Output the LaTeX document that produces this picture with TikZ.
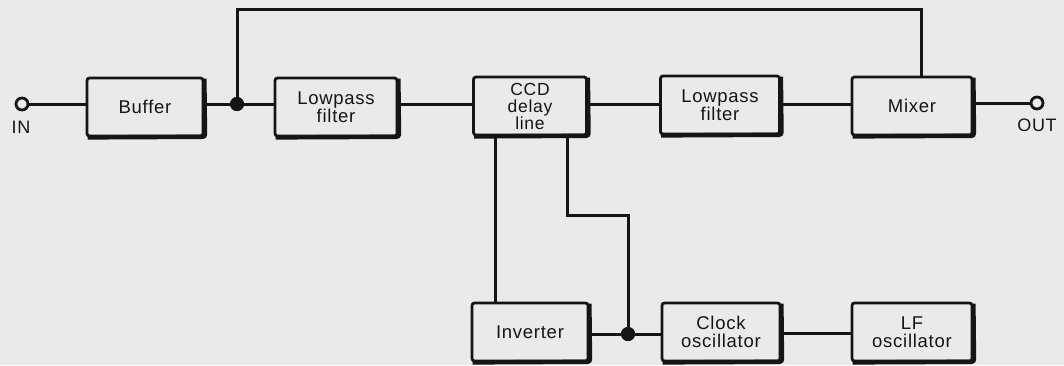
\documentclass[tikz,border=0pt]{standalone}
\usepackage{fontspec}
\setmainfont{Liberation Sans}[LetterSpace=4]
\definecolor{bg}{HTML}{EAEAEA}
\definecolor{ink}{HTML}{151515}
\begin{document}
\begin{tikzpicture}[x=1pt,y=-1pt,
  box/.style={draw=ink,line width=2.8pt,rounded corners=2.5pt,fill=bg,
    align=center,inner sep=0pt,minimum height=58pt,text=ink,
    font=\fontsize{18.5}{18}\selectfont},
  wire/.style={draw=ink,line width=3pt},
  dot/.style={circle,fill=ink,inner sep=0pt,minimum size=14pt},
  term/.style={circle,draw=ink,line width=2.8pt,fill=bg,inner sep=0pt,minimum size=12pt},
  lbl/.style={font=\fontsize{18}{18}\selectfont,text=ink,inner sep=0pt}]
\fill[bg] (0,0) rectangle (1064,365);
\useasboundingbox (0,0) rectangle (1064,365);
% top row
\node[box,minimum width=116pt] (buf) at (145,107) {Buffer};
\node[box,minimum width=122pt] (lp1) at (336,107) {Lowpass\\filter};
\node[box,minimum width=113pt,font=\fontsize{17.5}{17}\selectfont] (ccd) at (530,106) {CCD\\delay\\line};
\node[box,minimum width=119pt] (lp2) at (720,105) {Lowpass\\filter};
\node[box,minimum width=120pt] (mix) at (912,106) {Mixer};
% bottom row
\node[box,minimum width=116pt] (inv) at (530,332) {Inverter};
\node[box,minimum width=118pt] (clk) at (721,332) {Clock\\oscillator};
\node[box,minimum width=120pt] (lfo) at (912,332) {LF\\oscillator};
% heavy bottom/right edges
\foreach \n in {buf,lp1,ccd,lp2,mix,inv,clk,lfo}{
  \draw[ink,line width=4.4pt,rounded corners=2.5pt]
    ([yshift=-2pt]\n.north east) -- ([xshift=0.6pt,yshift=0.6pt]\n.south east) -- ([xshift=2pt]\n.south west);
}
% terminals
\node[term] (in) at (22,104) {};
\node[term] (out) at (1037,103) {};
\node[lbl,anchor=north] (inl) at (21,121) {IN};
\node[lbl,anchor=north] (outl) at (1037,119) {OUT};
% junctions
\node[dot] (j1) at (237,104) {};
\node[dot] (j2) at (628,334) {};
\coordinate (t1) at (237,9);
\coordinate (t2) at (921,9);
\coordinate (ccdL) at (495,0);
\coordinate (ccdR) at (567,0);
\coordinate (k1) at (567,215);
\coordinate (k2) at (628,215);
% wires
\draw[wire] (in.east) -- (buf.west |- in.east);
\draw[wire] (buf.east |- j1) -- (j1) -- (lp1.west |- j1);
\draw[wire] (j1) -- (t1) -- (t2) -- (t2 |- mix.north);
\draw[wire] (lp1.east |- 0,104) -- (ccd.west |- 0,104);
\draw[wire] (ccd.east |- 0,104) -- (lp2.west |- 0,104);
\draw[wire] (lp2.east |- 0,104) -- (mix.west |- 0,104);
\draw[wire] (mix.east |- out) -- (out.west);
\draw[wire] (ccdL |- ccd.south) -- (ccdL |- inv.north);
\draw[wire] (ccdR |- ccd.south) -- (k1) -- (k2) -- (j2);
\draw[wire] (inv.east |- j2) -- (j2) -- (clk.west |- j2);
\draw[wire] (clk.east |- 0,333) -- (lfo.west |- 0,333);
\node[dot] at (j1) {};
\node[dot] at (j2) {};
\end{tikzpicture}
\end{document}
